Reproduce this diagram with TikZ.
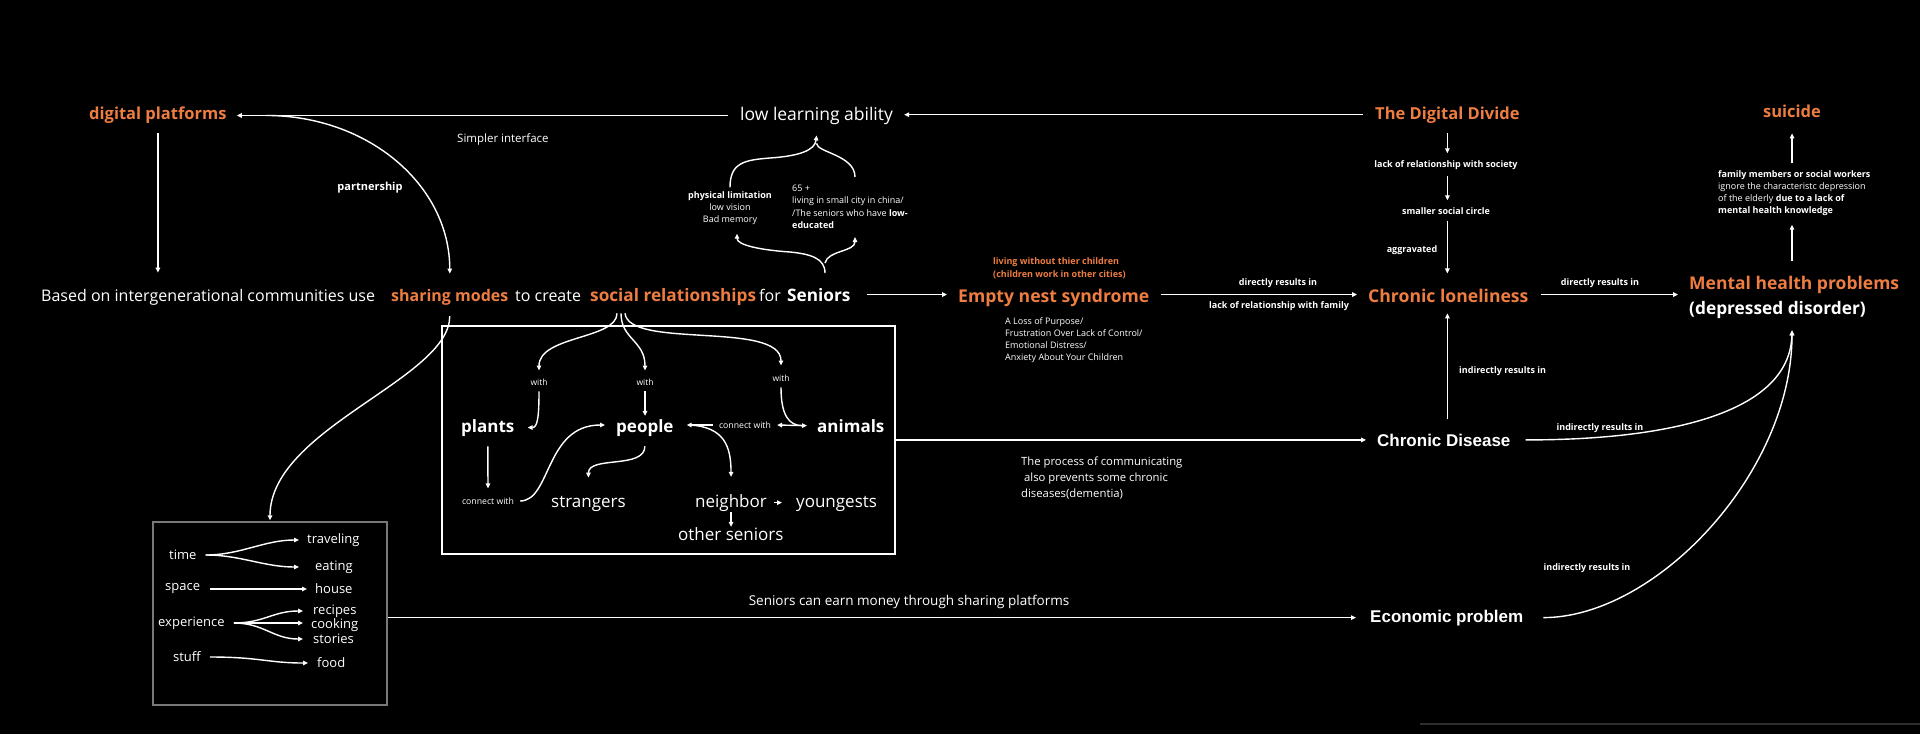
\documentclass[tikz,border=0pt]{standalone}
\usepackage{fontspec}
\setmainfont{Open Sans}
\newfontfamily\arialf{Liberation Sans}
\usetikzlibrary{arrows.meta}
\definecolor{org}{RGB}{238,125,65}
\definecolor{boxgray}{RGB}{120,120,120}
\definecolor{faint}{RGB}{45,45,45}
\newcommand{\fz}[2]{\fontsize{#1}{#2}\selectfont}
\tikzset{
  t/.style={inner sep=0pt, text=white, font=\fz{9}{12}},
  ob/.style={inner sep=0pt, text=org, font=\bfseries\fz{16.5}{20}},
  mr/.style={t, font=\fz{16}{20}, anchor=base west},
  mrb/.style={t, font=\bfseries\fz{17.2}{20}, anchor=base west},
  sb/.style={t, font=\bfseries\fz{9}{11}},
  bx/.style={t, font=\fz{17}{20}, anchor=base west},
  bxb/.style={t, font=\bfseries\fz{17}{20}, anchor=base west},
  lb/.style={t, font=\fz{13}{16}, anchor=west},
  arr/.style={draw=white, line width=1.4pt, -{Triangle[length=5pt,width=4.5pt]}},
  ln/.style={draw=white, line width=1.4pt},
}
\begin{document}
\begin{tikzpicture}[x=1pt,y=-1pt]
\fill[black] (0,0) rectangle (1920,734);
\useasboundingbox (0,0) rectangle (1920,734);
\draw[faint, line width=1.5pt] (1420,724) -- (1920,724);

% ---------- top row
\node[ob, anchor=base west] (dp) at (89,119) {digital platforms};
\node[t, font=\fz{17.5}{21}, anchor=base west] (lla) at (740,120) {low learning ability};
\node[ob, anchor=base west] (tdd) at (1375,119) {The Digital Divide};
\node[ob, anchor=base] (sui) at (1792,117) {suicide};
\node[t, font=\fz{11.5}{14}, anchor=west] (simp) at (457,139) {Simpler interface};
\node[t, font=\bfseries\fz{11}{14}] (part) at (370,188) {partnership};

% ---------- main row
\node[mr] (based) at (41,301) {Based on intergenerational communities use};
\node[mrb, text=org, font=\bfseries\fz{16}{20}] (share) at (391,301) {sharing modes};
\node[mr] (tocr) at (515,301) {to create};
\node[mrb, text=org] (social) at (590,301) {social relationships};
\node[mr] (for) at (759,301) {for};
\node[mrb] (seniors) at (787,301) {Seniors};
\node[ob, font=\bfseries\fz{17.6}{21}, anchor=base west] (ens) at (958,302) {Empty nest syndrome};
\node[ob, font=\bfseries\fz{17.6}{21}, anchor=base west] (cl) at (1368,302) {Chronic loneliness};
\node[ob, font=\bfseries\fz{17.5}{21}, anchor=base west] (mh) at (1689,289) {Mental health problems};
\node[t, font=\bfseries\fz{17.3}{21}, anchor=base west] (dd) at (1689,314) {(depressed disorder)};

% ---------- braces texts
\node[t, align=center, font=\fz{9}{12}] (pl) at (730,208) {\textbf{physical limitation}\\low vision\\Bad memory};
\node[t, align=left, anchor=west, font=\fz{9}{12.5}] (sf) at (792,207) {65 +\\living in small city in china/\\/The seniors who have \textbf{low-}\\\textbf{educated}};
\coordinate (lbB) at (825,273);
\coordinate (sfin) at (855,237);
\coordinate (sfout) at (855,177);

% ---------- empty nest texts
\node[t, text=org, font=\bfseries\fz{9}{12.5}, align=left, anchor=west] (live) at (993,268.5) {living without thier children\\(children work in other cities)};
\node[t, font=\fz{9}{12}, align=left, anchor=west] (loss) at (1005,340) {A Loss of Purpose/\\Frustration Over Lack of Control/\\Emotional Distress/\\Anxiety About Your Children};
\node[sb] (dr1) at (1278,283) {directly results in};
\node[sb] (lrf) at (1279,306) {lack of relationship with family};
\node[sb] (dr2) at (1600,283) {directly results in};

% ---------- digital divide chain
\node[sb] (lrs) at (1446,165) {lack of relationship with society};
\node[sb] (ssc) at (1446,211) {smaller social circle};
\node[sb] (agg) at (1412,250) {aggravated};
\node[t, font=\fz{9}{12}, align=left, anchor=west] (fam) at (1718,193) {\textbf{family members or social workers}\\ignore the characteristc depression\\of the elderly \textbf{due to a lack of}\\\textbf{mental health knowledge}};

% ---------- lower right
\node[t, font=\bfseries\arialf\fz{17}{20}, anchor=base west] (cd) at (1377,446) {Chronic Disease};
\node[t, font=\bfseries\arialf\fz{17}{20}, anchor=base west] (ep) at (1370,622) {Economic problem};
\node[sb, anchor=west] (ind1) at (1459,371) {indirectly results in};
\node[sb] (ind2) at (1600,428) {indirectly results in};
\node[sb] (ind3) at (1587,568) {indirectly results in};
\node[t, font=\fz{11.3}{16}, align=left, anchor=west] (proc) at (1021,478) {The process of communicating\\\hspace*{3pt}also prevents some chronic\\diseases(dementia)};
\node[t, font=\fz{13.5}{16}] (earn) at (909,602) {Seniors can earn money through sharing platforms};

% ---------- boxes
\node[draw=white, line width=1.4pt, minimum width=453pt, minimum height=228pt, inner sep=0pt] (bbox) at (668.5,440) {};
\node[draw=boxgray, line width=1.3pt, minimum width=234pt, minimum height=183pt, inner sep=0pt] (lbox) at (270,613.5) {};

% ---------- big box content
\coordinate (fork) at ([xshift=31pt,yshift=-8pt]social.south west);
\node[t, font=\fz{8.5}{10}] (w1) at (539,382) {with};
\node[t, font=\fz{8.5}{10}] (w2) at (645,382) {with};
\node[t, font=\fz{8.5}{10}] (w3) at (781,378) {with};
\node[bxb] (plants) at (461,432) {plants};
\node[bxb] (people) at (616,432) {people};
\node[bxb] (animals) at (817,432) {animals};
\node[t, font=\fz{8.7}{10}] (cw1) at (745,425) {connect with};
\node[t, font=\fz{8.7}{10}] (cw2) at (488,501) {connect with};
\node[bx] (strangers) at (551,507) {strangers};
\node[bx] (neighbor) at (695,507) {neighbor};
\node[bx] (young) at (796,507) {youngests};
\node[bx] (os) at (678,540) {other seniors};

% ---------- left box content
\node[lb] (tm) at (169,555) {time};
\node[lb] (trav) at (307,540) {traveling};
\node[lb] (eat) at (315,567) {eating};
\node[lb] (spc) at (165,589) {space};
\node[lb] (hse) at (315,589) {house};
\node[lb] (exper) at (158,623) {experience};
\node[lb] (rec) at (313,611) {recipes};
\node[lb] (cook) at (311,625) {cooking};
\node[lb] (sto) at (313,639) {stories};
\node[lb] (stf) at (173,657) {stuff};
\node[lb] (food) at (317,663) {food};

% ================= connectors
% top row
\draw[arr] ([xshift=-12pt]tdd.west) -- ([xshift=11pt]tdd.west -| lla.east);
\draw[arr] ([xshift=-12pt]lla.west) -- ([xshift=10pt]lla.west -| dp.east);
\draw[arr] ([xshift=39pt]lla.west -| dp.east) .. controls +(103,0) and +(0,-88) .. ([yshift=15pt]share.north);
\draw[arr] ([yshift=-10pt]dp.south) -- ([yshift=16pt]dp.south |- based.north);
% braces
\draw[arr] ([yshift=4pt]pl.north) .. controls +(0,-25) and (745,160) .. (770,158) .. controls (800,156) and (815,150) .. ([yshift=-11pt]lla.south);
\draw[ln] ([yshift=-19pt]lla.south) .. controls +(0,9) and +(0,-22) .. (sfout);
\draw[arr] (lbB) .. controls (825,258) and (810,254) .. (790,252) .. controls (760,250) and (737,245) .. ([xshift=7pt,yshift=-9pt]pl.south);
\draw[arr] ([yshift=10pt]lbB) .. controls +(3,-13) and +(0,15) .. (sfin);
% main row
\draw[arr] ([xshift=16pt]seniors.east) -- ([xshift=-11pt]seniors.east -| ens.west);
\draw[arr] ([xshift=11pt]ens.east |- seniors.east) -- ([xshift=-11pt]seniors.east -| cl.west);
\draw[arr] ([xshift=12pt]cl.east |- seniors.east) -- ([xshift=-11pt]seniors.east -| mh.west);
% digital divide chain
\draw[arr] ([yshift=-10pt]tdd.south) -- ([yshift=7pt]lrs.north -| tdd.south);
\draw[arr] ([yshift=-6pt]lrs.south -| tdd.south) -- ([yshift=7pt]ssc.north -| tdd.south);
\draw[arr] ([yshift=-6pt]ssc.south -| tdd.south) -- ([yshift=15pt]cl.north -| tdd.south);
\draw[arr] ([yshift=14pt]cd.north -| tdd.south) -- ([yshift=-11pt]cl.south -| tdd.south);
% mental health chain
\draw[arr] ([yshift=7pt]fam.north -| sui.south) -- ([yshift=-16pt]sui.south);
\draw[arr] ([yshift=15pt]mh.north -| sui.south) -- ([yshift=-9pt]fam.south -| sui.south);
\draw[arr] ([xshift=15pt]cd.east) .. controls +(154,0) and +(-2,79) .. ([yshift=-12pt]dd.south -| sui.south);
\draw[arr] ([xshift=20pt]ep.east) .. controls +(112,0) and +(0,143) .. ([yshift=-12pt]dd.south -| sui.south);
% boxes out
\draw[arr] (bbox.east |- cd.west) -- ([xshift=-11pt]cd.west);
\draw[arr] (lbox.east |- ep.west) -- ([xshift=-14pt]ep.west);
\draw[arr] ([yshift=-11pt]share.south) .. controls +(0,63) and +(0,-92) .. ([yshift=1pt]lbox.north);
% big box inside
\draw[arr] ([xshift=-4pt]fork) .. controls +(0,26) and +(0,-35) .. ([yshift=8pt]w1.north);
\draw[arr] (fork) .. controls +(0,26) and +(0,-30) .. ([yshift=8pt]w2.north);
\draw[arr] ([xshift=4pt]fork) .. controls +(4,36) and +(0,-45) .. ([yshift=9pt]w3.north);
\draw[arr] ([yshift=-6pt]w1.south) .. controls +(0,25) and +(10,0) .. ([xshift=13pt]plants.east);
\draw[arr] ([yshift=-6pt]w2.south) -- ([yshift=3pt]people.north -| w2.south);
\draw[arr] ([yshift=-6pt]w3.south) .. controls +(0,28) and +(-18,0) .. ([xshift=-10pt]animals.west);
\draw[arr] ([xshift=-12pt]animals.west) -- ([xshift=6pt]cw1.east);
\draw[arr] ([xshift=-6pt]cw1.west) -- ([xshift=13pt]cw1.west -| people.east);
\draw[arr] ([xshift=16pt]cw1.west -| people.east) .. controls +(35,2) and +(0,-30) .. ([yshift=17pt]neighbor.north);
\draw[arr] ([yshift=-10pt]plants.south) -- ([yshift=9pt]cw2.north);
\draw[arr] ([xshift=6pt]cw2.east) .. controls +(31,0) and +(-60,0) .. ([xshift=-11pt]cw1.west -| people.west);
\draw[arr] ([yshift=-10pt]people.south) .. controls +(0,23) and +(0,-22) .. ([yshift=18pt]strangers.north);
\draw[arr] ([xshift=7pt]neighbor.east) -- ([xshift=-14pt]neighbor.east -| young.west);
\draw[arr] ([yshift=-1pt]neighbor.south) -- (os.north -| neighbor.south);
% left box inside
\draw[arr] ([xshift=9pt]tm.east) .. controls +(35,0) and +(-35,0) .. ([xshift=-8pt]trav.west);
\draw[arr] ([xshift=9pt]tm.east) .. controls +(35,0) and +(-35,0) .. ([xshift=-16pt]eat.west);
\draw[arr] ([xshift=10pt]spc.east) -- ([xshift=-8pt]hse.west);
\draw[arr] ([xshift=9pt]exper.east) .. controls +(30,0) and +(-30,0) .. ([xshift=-10pt]rec.west);
\draw[arr] ([xshift=9pt]exper.east) -- ([xshift=-8pt]exper.east -| cook.west);
\draw[arr] ([xshift=9pt]exper.east) .. controls +(30,0) and +(-30,0) .. ([xshift=-10pt]sto.west);
\draw[arr] ([xshift=9pt]stf.east) .. controls +(50,0) and +(-40,0) .. ([xshift=-9pt]food.west);
\end{tikzpicture}
\end{document}
